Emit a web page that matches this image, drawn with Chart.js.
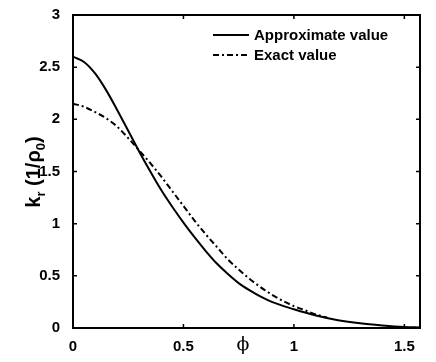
<!DOCTYPE html>
<html>
<head>
<meta charset="utf-8">
<script src="https://cdn.jsdelivr.net/npm/chart.js@4.4.0/dist/chart.umd.min.js"></script>
<style>
  html, body { margin: 0; padding: 0; background: #fff; }
  #wrap { width: 436px; height: 362px; }
</style>
</head>
<body>
<div id="wrap"><canvas id="kr"></canvas></div>
<script>
// phi values (radians) and curvature readings
const approxPhi = [0, 0.05, 0.1, 0.15, 0.2, 0.25, 0.3, 0.35, 0.4, 0.45, 0.5, 0.55, 0.6, 0.65, 0.7, 0.75, 0.8, 0.85, 0.9, 1.0, 1.1, 1.2, 1.3, 1.4, 1.5, 1.5708];
const approxValues = [2.60, 2.55, 2.44, 2.28, 2.09, 1.89, 1.69, 1.50, 1.32, 1.16, 1.01, 0.87, 0.74, 0.62, 0.52, 0.43, 0.36, 0.30, 0.25, 0.18, 0.12, 0.075, 0.045, 0.025, 0.01, 0.005];

const exactPhi = [0, 0.05, 0.1, 0.15, 0.2, 0.25, 0.3, 0.35, 0.4, 0.45, 0.5, 0.55, 0.6, 0.65, 0.7, 0.75, 0.8, 0.85, 0.9, 0.95, 1.0, 1.05, 1.1, 1.15];
const exactValues = [2.15, 2.12, 2.07, 2.01, 1.93, 1.82, 1.70, 1.58, 1.45, 1.31, 1.17, 1.03, 0.90, 0.78, 0.66, 0.56, 0.47, 0.39, 0.32, 0.26, 0.21, 0.17, 0.13, 0.10];

const xTicks = [0, 0.5, 1, 1.5];
const yTicks = [0, 0.5, 1, 1.5, 2, 2.5, 3];

const tickFont = { family: '"Liberation Sans", Arial, sans-serif', size: 15, weight: 'bold' };

// MATLAB-like frame, inward ticks, legend and axis labels
const axesDecor = {
  id: 'axesDecor',
  afterDatasetsDraw(chart) {
    const { ctx, chartArea: a, scales } = chart;
    ctx.save();
    ctx.strokeStyle = '#000';
    ctx.lineWidth = 1.5;
    ctx.beginPath();
    xTicks.forEach(v => {
      const px = scales.x.getPixelForValue(v);
      ctx.moveTo(px, a.bottom); ctx.lineTo(px, a.bottom - 4);
      ctx.moveTo(px, a.top); ctx.lineTo(px, a.top + 4);
    });
    yTicks.forEach(v => {
      const py = scales.y.getPixelForValue(v);
      ctx.moveTo(a.left, py); ctx.lineTo(a.left + 4, py);
      ctx.moveTo(a.right, py); ctx.lineTo(a.right - 4, py);
    });
    ctx.stroke();
    ctx.lineWidth = 2;
    ctx.strokeRect(a.left, a.top, a.right - a.left, a.bottom - a.top);

    // legend
    ctx.font = 'bold 15px "Liberation Sans", Arial, sans-serif';
    ctx.textBaseline = 'middle';
    ctx.fillStyle = '#000';
    chart.data.datasets.forEach((ds, i) => {
      const y = 35 + i * 20;
      ctx.beginPath();
      ctx.lineWidth = ds.borderWidth;
      ctx.setLineDash(ds.borderDash || []);
      ctx.moveTo(213, y); ctx.lineTo(249, y);
      ctx.stroke();
      ctx.setLineDash([]);
      ctx.fillText(ds.label, 254, y + 1);
    });

    // x label
    ctx.font = '19px "DejaVu Serif", "Liberation Serif", serif';
    ctx.textAlign = 'center';
    ctx.textBaseline = 'alphabetic';
    ctx.fillText('\u03d5', 243, 350);

    // y label with subscripts
    ctx.translate(40, 172);
    ctx.rotate(-Math.PI / 2);
    const big = 'bold 20px "Liberation Sans", Arial, sans-serif';
    const small = 'bold 13px "Liberation Sans", Arial, sans-serif';
    const parts = [['k', big, 0], ['r', small, 5], [' (1/\u03c1', big, 0], ['0', small, 5], [')', big, 0]];
    let w = 0;
    parts.forEach(p => { ctx.font = p[1]; w += ctx.measureText(p[0]).width; });
    let x = -w / 2;
    ctx.textAlign = 'left';
    parts.forEach(p => {
      ctx.font = p[1];
      ctx.fillText(p[0], x, p[2]);
      x += ctx.measureText(p[0]).width;
    });
    ctx.restore();
  }
};

new Chart(document.getElementById('kr'), {
  type: 'line',
  data: {
    datasets: [{
      label: 'Approximate value',
      data: approxPhi.map((p, i) => ({ x: p, y: approxValues[i] })),
      borderColor: '#000',
      borderWidth: 2,
      pointRadius: 0,
      cubicInterpolationMode: 'monotone'
    }, {
      label: 'Exact value',
      data: exactPhi.map((p, i) => ({ x: p, y: exactValues[i] })),
      borderColor: '#000',
      borderWidth: 2,
      borderDash: [6, 3, 2, 3],
      pointRadius: 0,
      cubicInterpolationMode: 'monotone'
    }]
  },
  options: {
    responsive: true,
    maintainAspectRatio: false,
    animation: false,
    layout: { padding: { left: 0, right: 16, top: 15, bottom: 0 } },
    plugins: { legend: { display: false }, tooltip: { enabled: false } },
    scales: {
      x: {
        type: 'linear',
        min: 0,
        max: Math.PI / 2,
        afterBuildTicks: s => { s.ticks = xTicks.map(v => ({ value: v })); },
        afterFit: s => { s.height = 34; },
        grid: { display: false },
        border: { display: false },
        ticks: { color: '#000', font: tickFont, padding: 2, maxRotation: 0, callback: v => String(v) }
      },
      y: {
        min: 0,
        max: 3,
        afterBuildTicks: s => { s.ticks = yTicks.map(v => ({ value: v })); },
        afterFit: s => { s.width = 73; },
        grid: { display: false },
        border: { display: false },
        ticks: { color: '#000', font: tickFont, padding: 5, callback: v => String(v) }
      }
    }
  },
  plugins: [axesDecor]
});
</script>
</body>
</html>
